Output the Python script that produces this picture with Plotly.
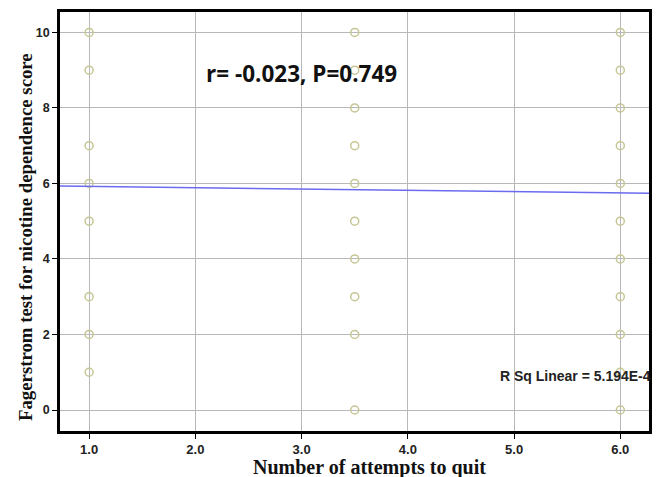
import plotly.graph_objects as go

# Data
x_attempts_1 = [1.0] * 8
y_score_1 = [10, 9, 7, 6, 5, 3, 2, 1]
x_attempts_35 = [3.5] * 10
y_score_35 = [10, 9, 8, 7, 6, 5, 4, 3, 2, 0]
x_attempts_6 = [6.0] * 11
y_score_6 = [10, 9, 8, 7, 6, 5, 4, 3, 2, 1, 0]

fit_x = [0.726, 6.27]
fit_y = [5.93, 5.74]

x_ticks = [1, 2, 3, 4, 5, 6]
x_tick_labels = ["1.0", "2.0", "3.0", "4.0", "5.0", "6.0"]
y_ticks = [0, 2, 4, 6, 8, 10]

xs = x_attempts_1 + x_attempts_35 + x_attempts_6
ys = y_score_1 + y_score_35 + y_score_6

fig = go.Figure()
fig.add_trace(go.Scatter(
    x=xs, y=ys, mode="markers",
    marker=dict(symbol="circle-open", size=8, color="#c6c695", line=dict(width=1.5, color="#c6c695")),
    showlegend=False, hoverinfo="skip"))
fig.add_trace(go.Scatter(
    x=fit_x, y=fit_y, mode="lines",
    line=dict(color="#6b6bf0", width=1.5),
    showlegend=False, hoverinfo="skip"))

fig.update_layout(
    width=660, height=477,
    margin=dict(l=60, r=8, t=12, b=46),
    paper_bgcolor="white", plot_bgcolor="white",
    xaxis=dict(
        range=[0.726, 6.27], tickvals=x_ticks, ticktext=x_tick_labels,
        showgrid=True, gridcolor="#b8b8b8", gridwidth=1, zeroline=False,
        showline=True, linecolor="black", linewidth=2.5, mirror=True,
        ticks="outside", ticklen=5, tickcolor="black", tickwidth=1,
        tickfont=dict(family="Liberation Sans", size=13, color="#222", weight="bold"),
    ),
    yaxis=dict(
        range=[-0.556, 10.54], tickvals=y_ticks,
        showgrid=True, gridcolor="#b8b8b8", gridwidth=1, zeroline=False,
        showline=True, linecolor="black", linewidth=2.5, mirror=True,
        ticks="outside", ticklen=5, tickcolor="black", tickwidth=1,
        tickfont=dict(family="Liberation Sans", size=12.5, color="#222", weight="bold"),
    ),
    annotations=[
        dict(x=0.4096, y=8.92, xref="paper", yref="y", text="r= -0.023, P=0.749",
             showarrow=False, xanchor="center", yanchor="middle",
             font=dict(family="Open Sans", size=22.5, color="#111", weight="bold")),
        dict(x=1.0, y=0.9, xref="paper", yref="y", text="R Sq Linear = 5.194E-4",
             showarrow=False, xanchor="right", yanchor="middle", xshift=4,
             font=dict(family="Liberation Sans", size=14, color="#222", weight="bold")),
        dict(x=0.5262, y=0, xref="paper", yref="paper", yshift=-36,
             text="Number of attempts to quit", showarrow=False,
             xanchor="center", yanchor="middle",
             font=dict(family="Liberation Serif", size=20, color="#111", weight="bold")),
        dict(x=0, y=0.463, xref="paper", yref="paper", xshift=-35,
             text="Fagerstrom test for nicotine dependence score", showarrow=False,
             textangle=-90, xanchor="center", yanchor="middle",
             font=dict(family="Liberation Serif", size=18.8, color="#111", weight="bold")),
    ],
)

fig.write_html("out.html")
